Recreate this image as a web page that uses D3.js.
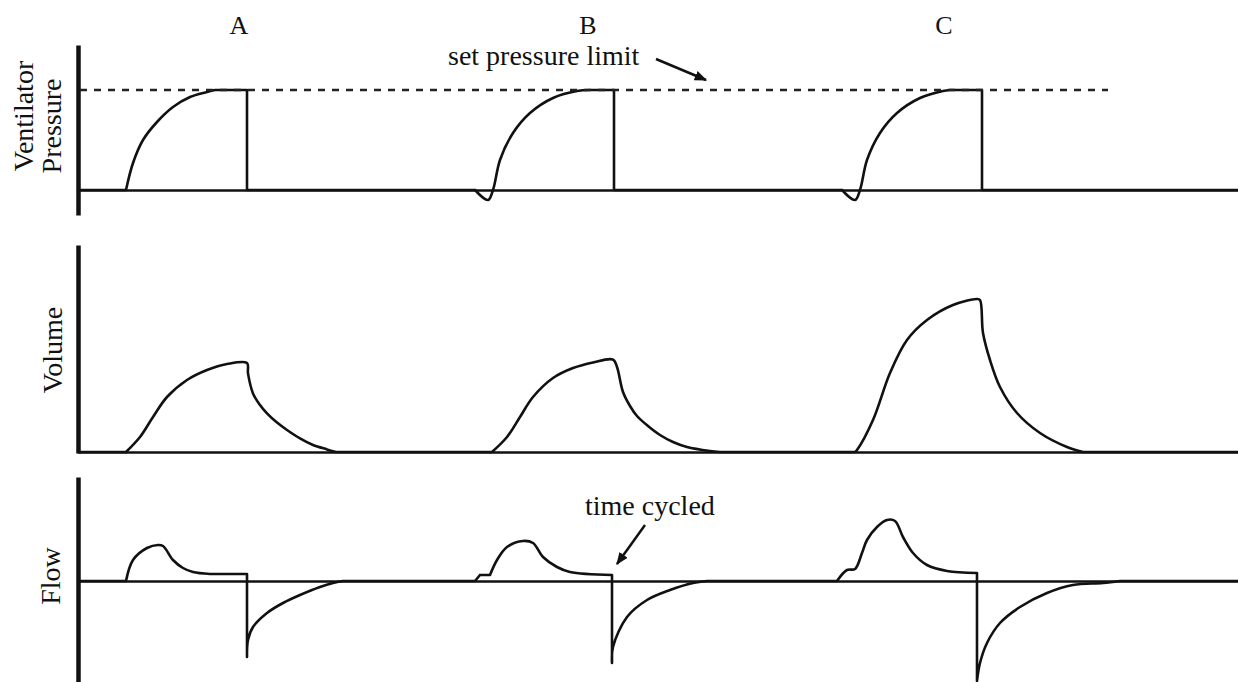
<!DOCTYPE html>
<html>
<head>
<meta charset="utf-8">
<script src="https://cdn.jsdelivr.net/npm/d3@7"></script>
<style>
  body { margin: 0; background: #fff; }
  svg { display: block; }
  text { font-family: "Liberation Serif", "Times New Roman", serif; fill: #111; }
</style>
</head>
<body>
<svg id="chart"></svg>
<script>
// time in seconds, pressure in cmH2O, volume in mL, flow in L/s
var breathLabels = ["A", "B", "C"];
var breathLabelTimes = [1.61, 5.10, 8.66];
var pressureLimit = 20;
var limitEnd = 10.3;

var pressureTrace = [
  [0, 0], [0.48, 0], [0.55, 5.4], [0.65, 10], [0.79, 13.6], [0.95, 16.6], [1.12, 18.6], [1.29, 19.6], [1.37, 20],
  [1.69, 20], [1.69, 0],
  [3.97, 0], [4.10, -2], [4.15, 0], [4.22, 6], [4.35, 11.4], [4.52, 15.4], [4.75, 18.4], [4.99, 19.8], [5.12, 20],
  [5.36, 20], [5.36, 0],
  [7.64, 0], [7.77, -2], [7.82, 0], [7.89, 6], [8.02, 11.4], [8.19, 15.4], [8.42, 18.4], [8.65, 19.8], [8.72, 20],
  [9.04, 20], [9.04, 0],
  [11.6, 0]
];

var volumeTrace = [
  [0, 0], [0.48, 0], [0.62, 75], [0.75, 175], [0.89, 275], [1.09, 360], [1.29, 410], [1.49, 440], [1.69, 445],
  [1.70, 393], [1.75, 293], [1.82, 235], [1.89, 193], [1.99, 147], [2.09, 110], [2.22, 68], [2.35, 35], [2.49, 13], [2.58, 0],
  [4.14, 0], [4.29, 75], [4.42, 175], [4.55, 275], [4.75, 370], [4.95, 420], [5.15, 448], [5.35, 462],
  [5.39, 425], [5.45, 300], [5.52, 230], [5.59, 180], [5.70, 130], [5.82, 85], [5.95, 50], [6.09, 25], [6.32, 5], [6.42, 0],
  [7.77, 0], [7.79, 10], [7.95, 160], [8.12, 395], [8.29, 560], [8.49, 660], [8.75, 735], [8.99, 765],
  [9.02, 760], [9.05, 595], [9.12, 460], [9.22, 325], [9.39, 195], [9.62, 95], [9.89, 25], [10.05, 0],
  [11.6, 0]
];

var flowTrace = [
  [0, 0], [0.48, 0], [0.55, 0.21], [0.69, 0.33], [0.80, 0.36], [0.85, 0.35], [0.95, 0.21], [1.05, 0.13], [1.15, 0.09], [1.32, 0.07],
  [1.69, 0.07], [1.69, -0.76],
  [1.70, -0.59], [1.75, -0.46], [1.89, -0.32], [2.05, -0.22], [2.22, -0.14], [2.42, -0.06], [2.55, -0.02], [2.65, 0],
  [3.97, 0], [4.02, 0.06], [4.12, 0.06], [4.19, 0.21], [4.29, 0.34], [4.45, 0.40], [4.55, 0.38], [4.65, 0.24], [4.79, 0.14], [4.92, 0.09],
  [5.34, 0.06], [5.34, -0.82],
  [5.35, -0.66], [5.49, -0.36], [5.69, -0.19], [5.92, -0.09], [6.15, -0.02], [6.29, 0],
  [7.59, 0], [7.69, 0.11], [7.77, 0.12], [7.84, 0.28], [7.89, 0.41], [7.99, 0.54], [8.09, 0.61], [8.17, 0.60], [8.25, 0.44],
  [8.35, 0.28], [8.49, 0.16], [8.69, 0.10], [8.99, 0.08], [8.99, -1.0],
  [9.02, -0.82], [9.09, -0.62], [9.22, -0.42], [9.42, -0.26], [9.69, -0.12], [9.95, -0.04], [10.25, -0.02], [10.42, 0],
  [11.6, 0]
];

var W = 1238, H = 682;
var svg = d3.select("#chart").attr("width", W).attr("height", H);

var x = d3.scaleLinear().domain([0, 11.6]).range([78, 1238]);

var panels = [
  {name: "pressure", data: pressureTrace, y: d3.scaleLinear().domain([-5, 29]).range([215, 45])},
  {name: "volume", data: volumeTrace, y: d3.scaleLinear().domain([-5, 1035]).range([453, 245])},
  {name: "flow", data: flowTrace, y: d3.scaleLinear().domain([-1.01, 1.04]).range([682, 477])}
];

// split a trace into smooth pieces and straight pieces (flat or vertical)
function tracePath(data, y){
  var curved = d3.line().x(function(d){ return x(d[0]); }).y(function(d){ return y(d[1]); }).curve(d3.curveCatmullRom.alpha(0.5));
  var straight = d3.line().x(function(d){ return x(d[0]); }).y(function(d){ return y(d[1]); });
  var out = "", group = [data[0]];
  for (var i = 1; i < data.length; i++){
    var a = data[i-1], b = data[i];
    if (a[0] === b[0] || a[1] === b[1]){
      if (group.length > 1) out += curved(group);
      out += straight([a, b]);
      group = [b];
    } else {
      group.push(b);
    }
  }
  if (group.length > 1) out += curved(group);
  return out;
}

var defs = svg.append("defs");
defs.append("marker").attr("id", "arrow")
  .attr("viewBox", "0 0 10 10").attr("refX", 9).attr("refY", 5)
  .attr("markerWidth", 5).attr("markerHeight", 5).attr("orient", "auto")
  .append("path").attr("d", "M0,1 L10,5 L0,9 z").attr("fill", "#111");

panels.forEach(function(p){
  var g = svg.append("g").attr("class", p.name);

  g.append("g").attr("transform", "translate(0," + p.y(0) + ")")
    .call(d3.axisBottom(x).tickValues([]).tickSizeOuter(0))
    .select(".domain").attr("stroke", "#111").attr("stroke-width", 2.5);

  g.append("g").attr("transform", "translate(" + x(0) + ",0)")
    .call(d3.axisLeft(p.y).tickValues([]).tickSizeOuter(0))
    .select(".domain").attr("stroke", "#111").attr("stroke-width", 4.5);

  g.append("path").attr("d", tracePath(p.data, p.y))
    .attr("fill", "none").attr("stroke", "#111").attr("stroke-width", 2.6)
    .attr("stroke-linecap", "round").attr("stroke-linejoin", "round");
});

// set pressure limit (dashed)
var yP = panels[0].y;
svg.append("line")
  .attr("x1", x(0.02)).attr("x2", x(limitEnd))
  .attr("y1", yP(pressureLimit)).attr("y2", yP(pressureLimit))
  .attr("stroke", "#222").attr("stroke-width", 2.4).attr("stroke-dasharray", "7,7");

// breath labels
svg.selectAll(".breath").data(breathLabels).enter().append("text")
  .attr("class", "breath")
  .attr("x", function(d, i){ return x(breathLabelTimes[i]); })
  .attr("y", 34).attr("text-anchor", "middle").attr("font-size", 26)
  .text(function(d){ return d; });

// y labels
var yLabels = [
  {t: "Ventilator", x: 33, y: 116},
  {t: "Pressure", x: 61, y: 126},
  {t: "Volume", x: 62, y: 350},
  {t: "Flow", x: 60, y: 576}
];
svg.selectAll(".ylab").data(yLabels).enter().append("text")
  .attr("class", "ylab")
  .attr("transform", function(d){ return "translate(" + d.x + "," + d.y + ") rotate(-90)"; })
  .attr("text-anchor", "middle").attr("font-size", 28)
  .text(function(d){ return d.t; });

// annotations
svg.append("text").attr("x", 448).attr("y", 65).attr("font-size", 28).text("set pressure limit");
svg.append("line").attr("x1", 656).attr("y1", 59).attr("x2", 706).attr("y2", 80)
  .attr("stroke", "#111").attr("stroke-width", 2.5).attr("marker-end", "url(#arrow)");

svg.append("text").attr("x", 585).attr("y", 515).attr("font-size", 28).text("time cycled");
svg.append("line").attr("x1", 645).attr("y1", 525).attr("x2", 617).attr("y2", 564)
  .attr("stroke", "#111").attr("stroke-width", 2.5).attr("marker-end", "url(#arrow)");
</script>
</body>
</html>
